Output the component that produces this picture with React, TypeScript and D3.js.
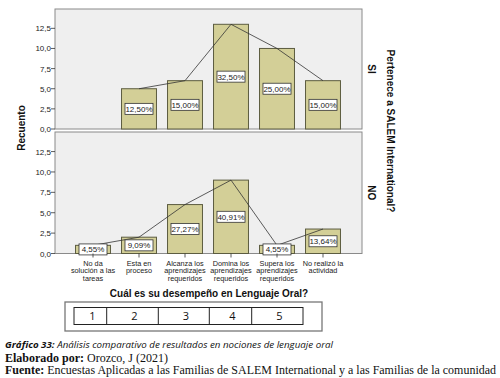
import React from "react";
import * as d3 from "d3";

const categories: string[][] = [
  ["No da", "solución a las", "tareas"],
  ["Esta en", "proceso"],
  ["Alcanza los", "aprendizajes", "requeridos"],
  ["Domina los", "aprendizajes", "requeridos"],
  ["Supera los", "aprendizajes", "requeridos"],
  ["No realizó la", "actividad"],
];
const groups = ["SI", "NO"];
const siValues = [0, 5, 6, 13, 10, 6];
const siPercents = ["", "12,50%", "15,00%", "32,50%", "25,00%", "15,00%"];
const noValues = [1, 2, 6, 9, 1, 3];
const noPercents = ["4,55%", "9,09%", "27,27%", "40,91%", "4,55%", "13,64%"];
const yTicks = [0, 2.5, 5, 7.5, 10, 12.5];
const legendLabels = ["1", "2", "3", "4", "5"];

const W = 500;
const H = 378;
const PL = 55;
const PR = 362;
const panels = [
  { top: 9, bottom: 129, values: siValues, percents: siPercents, label: groups[0] },
  { top: 132, bottom: 253.5, values: noValues, percents: noPercents, label: groups[1] },
];

const SANS = "'Liberation Sans', Arial, sans-serif";

export default function App() {
  const x = d3
    .scaleBand<number>()
    .domain(d3.range(categories.length))
    .range([PL + 15, PR - 16])
    .paddingInner(0.24)
    .paddingOuter(0.12);
  const bw = x.bandwidth();

  return (
    <svg width={W} height={H} style={{ position: "absolute", left: 0, top: 0 }}>
      <rect x={0} y={0} width={W} height={H} fill="#fff" />
      {panels.map((p, pi) => {
        const y = d3.scaleLinear().domain([0, 14.9]).range([p.bottom, p.top]);
        const pts = p.values
          .map((v, i) => ({ v, i }))
          .filter((d) => d.v > 0)
          .map((d) => [x(d.i)! + bw / 2, y(d.v)] as [number, number]);
        const line = d3.line()(pts) || "";
        return (
          <g key={pi}>
            <rect x={PL} y={p.top} width={PR - PL} height={p.bottom - p.top} fill="#EFEFEF" stroke="#8a8a8a" strokeWidth={1} />
            {yTicks.map((t) => (
              <g key={t}>
                <line x1={PL - 4} x2={PL} y1={y(t)} y2={y(t)} stroke="#333" strokeWidth={0.8} />
                <text x={PL - 4} y={y(t) + 3} fontSize={8} textAnchor="end" fontFamily={SANS} fill="#222">
                  {d3.format(".1f")(t).replace(".", ",")}
                </text>
              </g>
            ))}
            {p.values.map((v, i) =>
              v > 0 ? (
                <rect key={i} x={x(i)!} y={y(v)} width={bw} height={y(0) - y(v)} fill="#D3CF97" stroke="#5c5c40" strokeWidth={1} />
              ) : null
            )}
            <path d={line} fill="none" stroke="#333" strokeWidth={0.8} />
            {p.values.map((v, i) =>
              v > 0 ? (
                <g key={"l" + i}>
                  <rect x={x(i)! + bw / 2 - 14} y={(y(v) + y(0)) / 2 - 5.5} width={28} height={11} fill="#fff" stroke="#333" strokeWidth={0.8} />
                  <text x={x(i)! + bw / 2} y={(y(v) + y(0)) / 2 + 3} fontSize={8} textAnchor="middle" fontFamily={SANS} fill="#222">
                    {p.percents[i]}
                  </text>
                </g>
              ) : null
            )}
            <text
              transform={`translate(${368},${(p.top + p.bottom) / 2}) rotate(90)`}
              fontSize={10}
              fontWeight="bold"
              textAnchor="middle"
              fontFamily={SANS}
              fill="#111"
            >
              {p.label}
            </text>
          </g>
        );
      })}
      {categories.map((c, i) => (
        <g key={i}>
          <line x1={x(i)! + bw / 2} x2={x(i)! + bw / 2} y1={253.5} y2={257.5} stroke="#333" strokeWidth={0.8} />
          {c.map((s, j) => (
            <text key={j} x={x(i)! + bw / 2} y={265.5 + j * 7.7} fontSize={7.3} textAnchor="middle" fontFamily={SANS} fill="#222">
              {s}
            </text>
          ))}
        </g>
      ))}
      <text transform="translate(25,128) rotate(-90)" fontSize={10} fontWeight="bold" textAnchor="middle" fontFamily={SANS} fill="#111">
        Recuento
      </text>
      <text transform="translate(387,131) rotate(90)" fontSize={10} fontWeight="bold" textAnchor="middle" fontFamily={SANS} fill="#111">
        Pertenece a SALEM International?
      </text>
      <text x={209} y={297} fontSize={10} fontWeight="bold" textAnchor="middle" fontFamily={SANS} fill="#111">
        Cuál es su desempeño en Lenguaje Oral?
      </text>
      <rect x={65} y={302} width={257} height={29} fill="#fff" stroke="#777" strokeWidth={1.3} />
      {(() => {
        const edges = [74, 106.7, 158.3, 209.3, 251.7, 303];
        return (
          <g>
            <rect x={74} y={307.5} width={229} height={17} fill="none" stroke="#222" strokeWidth={1} />
            {edges.slice(1, -1).map((e) => (
              <line key={e} x1={e} x2={e} y1={307.5} y2={324.5} stroke="#222" strokeWidth={1} />
            ))}
            {legendLabels.map((l, i) => (
              <text key={l} x={(edges[i] + edges[i + 1]) / 2 + 2} y={320} fontSize={11} textAnchor="middle" fontFamily="'Open Sans', sans-serif" fill="#111">
                {l}
              </text>
            ))}
          </g>
        );
      })()}
      <text x={5} y={348} fontSize={9.2} fontStyle="italic" fontFamily="'Open Sans', sans-serif" fill="#111" textLength={328} lengthAdjust="spacingAndGlyphs">
        <tspan fontWeight="bold">Gráfico 33:</tspan> Análisis comparativo de resultados en nociones de lenguaje oral
      </text>
      <text x={5} y={361.5} fontSize={12} fontFamily="'Liberation Serif', serif" fill="#111" textLength={163} lengthAdjust="spacingAndGlyphs">
        <tspan fontWeight="bold">Elaborado por:</tspan> Orozco, J (2021)
      </text>
      <text x={5} y={374} fontSize={12} fontFamily="'Liberation Serif', serif" fill="#111" textLength={491} lengthAdjust="spacingAndGlyphs">
        <tspan fontWeight="bold">Fuente:</tspan> Encuestas Aplicadas a las Familias de SALEM International y a las Familias de la comunidad
      </text>
    </svg>
  );
}
